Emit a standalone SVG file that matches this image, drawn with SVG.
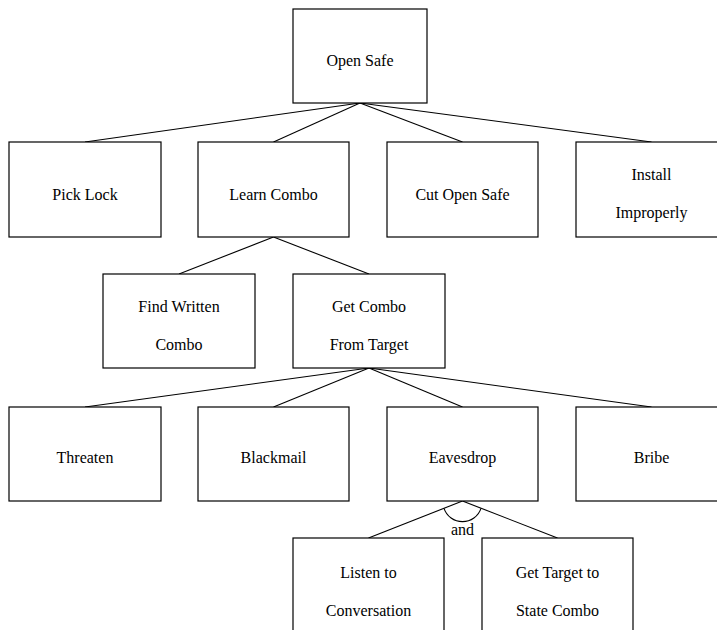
<svg xmlns="http://www.w3.org/2000/svg" width="717" height="630" viewBox="0 0 717 630">
<style>
.box{fill:#fff;stroke:#000;stroke-width:1.2}
.edge{fill:none;stroke:#000;stroke-width:1.1}
text{font-family:"Liberation Serif","Times New Roman",serif;font-size:16px;fill:#000;text-anchor:middle}
</style>
<rect width="717" height="630" fill="#fff"/>
<g id="connectors">
<line class="edge" x1="360" y1="103" x2="85" y2="142"/>
<line class="edge" x1="360" y1="103" x2="273.5" y2="142"/>
<line class="edge" x1="360" y1="103" x2="462.5" y2="142"/>
<line class="edge" x1="360" y1="103" x2="651.5" y2="142"/>
<line class="edge" x1="273.5" y1="237" x2="179" y2="274"/>
<line class="edge" x1="273.5" y1="237" x2="369" y2="274"/>
<line class="edge" x1="369" y1="368" x2="85" y2="407"/>
<line class="edge" x1="369" y1="368" x2="273.5" y2="407"/>
<line class="edge" x1="369" y1="368" x2="462.5" y2="407"/>
<line class="edge" x1="369" y1="368" x2="651.5" y2="407"/>
<line class="edge" x1="462.5" y1="501" x2="368.5" y2="538"/>
<line class="edge" x1="462.5" y1="501" x2="557.5" y2="538"/>
<path class="edge" d="M444 508.3 A19.5 19.5 0 0 0 481 508.3"/>
<text x="462.5" y="535">and</text>
</g>
<g id="open-safe"><rect class="box" x="293" y="9" width="134" height="94"/><text x="360" y="66">Open Safe</text></g>
<g id="pick-lock"><rect class="box" x="9" y="142" width="152" height="95"/><text x="85" y="200">Pick Lock</text></g>
<g id="learn-combo"><rect class="box" x="198" y="142" width="151" height="95"/><text x="273.5" y="200">Learn Combo</text></g>
<g id="cut-open-safe"><rect class="box" x="387" y="142" width="151" height="95"/><text x="462.5" y="200">Cut Open Safe</text></g>
<g id="install-improperly"><rect class="box" x="576" y="142" width="152" height="95"/><text x="651.5" y="180">Install</text><text x="651.5" y="218">Improperly</text></g>
<g id="find-written-combo"><rect class="box" x="103" y="274" width="152" height="94"/><text x="179" y="312">Find Written</text><text x="179" y="350">Combo</text></g>
<g id="get-combo-from-target"><rect class="box" x="293" y="274" width="152" height="94"/><text x="369" y="312">Get Combo</text><text x="369" y="350">From Target</text></g>
<g id="threaten"><rect class="box" x="9" y="407" width="152" height="94"/><text x="85" y="463">Threaten</text></g>
<g id="blackmail"><rect class="box" x="198" y="407" width="151" height="94"/><text x="273.5" y="463">Blackmail</text></g>
<g id="eavesdrop"><rect class="box" x="387" y="407" width="151" height="94"/><text x="462.5" y="463">Eavesdrop</text></g>
<g id="bribe"><rect class="box" x="576" y="407" width="152" height="94"/><text x="651.5" y="463">Bribe</text></g>
<g id="listen-to-conversation"><rect class="box" x="293" y="538" width="151" height="95"/><text x="368.5" y="578">Listen to</text><text x="368.5" y="616">Conversation</text></g>
<g id="get-target-to-state-combo"><rect class="box" x="482" y="538" width="151" height="95"/><text x="557.5" y="578">Get Target to</text><text x="557.5" y="616">State Combo</text></g>
</svg>
